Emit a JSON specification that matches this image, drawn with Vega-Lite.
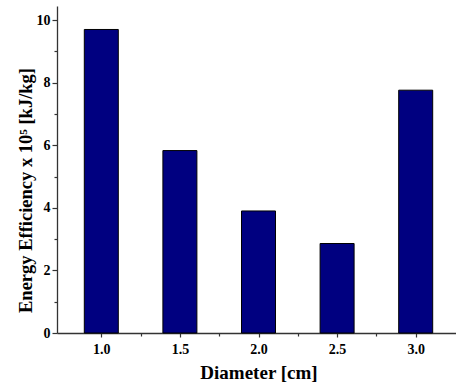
{
  "$schema": "https://vega.github.io/schema/vega-lite/v6.json",
  "autosize": "none",
  "padding": {"left": 57, "top": 6, "right": 0, "bottom": 57},
  "width": 403,
  "height": 327,
  "background": "white",
  "data": {"values": [
    {"diameter": 1.0, "efficiency": 9.70},
    {"diameter": 1.5, "efficiency": 5.83},
    {"diameter": 2.0, "efficiency": 3.90},
    {"diameter": 2.5, "efficiency": 2.86},
    {"diameter": 3.0, "efficiency": 7.76}
  ]},
  "config": {
    "view": {"stroke": null},
    "axis": {
      "labelFont": "Liberation Serif",
      "labelFontWeight": "bold",
      "labelColor": "black",
      "titleFont": "Liberation Serif",
      "titleFontWeight": "bold",
      "titleColor": "black",
      "domainColor": "#333333",
      "domainWidth": 1.3,
      "tickColor": "#333333",
      "tickWidth": 1.2,
      "grid": false
    }
  },
  "mark": {"type": "bar", "fill": "#000080", "stroke": "black", "strokeWidth": 1, "width": 34},
  "encoding": {
    "x": {
      "field": "diameter",
      "type": "quantitative",
      "scale": {"domain": [0.75, 3.25], "nice": false, "zero": false},
      "axis": {
        "title": "Diameter [cm]",
        "titleFontSize": 19,
        "titlePadding": 7,
        "labelFontSize": 14,
        "values": [1, 1.25, 1.5, 1.75, 2, 2.25, 2.5, 2.75, 3],
        "labelExpr": "(datum.value * 2) % 1 == 0 ? format(datum.value, '.1f') : ''",
        "tickSize": {"condition": {"test": "(datum.value * 2) % 1 != 0", "value": 3}, "value": 4},
        "labelPadding": 5,
        "titleX": 201.5
      }
    },
    "y": {
      "field": "efficiency",
      "type": "quantitative",
      "scale": {"domain": [0, 10.45], "nice": false},
      "axis": {
        "title": "Energy Efficiency x 10⁵ [kJ/kg]",
        "titleFontSize": 18.5,
        "labelFontSize": 14,
        "values": [0, 1, 2, 3, 4, 5, 6, 7, 8, 9, 10],
        "labelExpr": "datum.value % 2 == 0 ? format(datum.value, 'd') : ''",
        "tickSize": {"condition": {"test": "datum.value % 2 != 0", "value": 3}, "value": 5},
        "labelPadding": 2,
        "titleY": 184,
        "titleX": -32,
        "titleBaseline": "middle",
        "titleAlign": "center"
      }
    }
  }
}
